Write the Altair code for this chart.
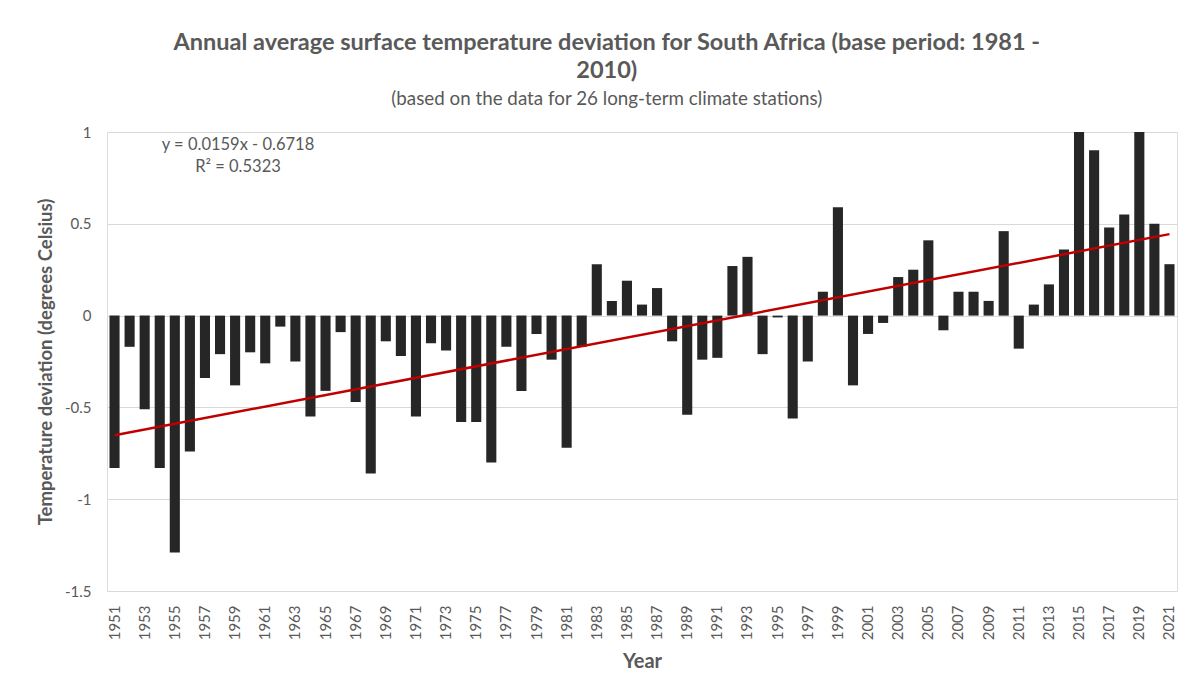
import altair as alt
import pandas as pd

years = list(range(1951, 2022))
deviation = [
    -0.83, -0.17, -0.51, -0.83, -1.29, -0.74, -0.34, -0.21, -0.38, -0.20,
    -0.26, -0.06, -0.25, -0.55, -0.41, -0.09, -0.47, -0.86, -0.14, -0.22,
    -0.55, -0.15, -0.19, -0.58, -0.58, -0.80, -0.17, -0.41, -0.10, -0.24,
    -0.72, -0.17, 0.28, 0.08, 0.19, 0.06, 0.15, -0.14, -0.54, -0.24,
    -0.23, 0.27, 0.32, -0.21, -0.01, -0.56, -0.25, 0.13, 0.59, -0.38,
    -0.10, -0.04, 0.21, 0.25, 0.41, -0.08, 0.13, 0.13, 0.08, 0.46,
    -0.18, 0.06, 0.17, 0.36, 1.00, 0.90, 0.48, 0.55, 1.00, 0.50,
    0.28,
]
x_tick_years = years[::2]
y_ticks = [1, 0.5, 0, -0.5, -1, -1.5]
title_lines = [
    "Annual average surface temperature deviation for South Africa (base period: 1981 -",
    "2010)",
]
subtitle = "(based on the data for 26 long-term climate stations)"
trend_text = ["y = 0.0159x - 0.6718", "R\u00b2 = 0.5323"]

df = pd.DataFrame({"year": years, "value": deviation})

FONT = "Lato"
GREY = "#595959"

x_enc = alt.X(
    "year:O",
    title="Year",
    scale=alt.Scale(paddingInner=0.33, paddingOuter=0.165),
    axis=alt.Axis(
        values=x_tick_years,
        labelAngle=-90,
        labelFontSize=15,
        labelColor=GREY,
        labelFont=FONT,
        labelPadding=14,
        domain=False,
        ticks=False,
        titleFont=FONT,
        titleFontSize=20,
        titleFontWeight="bold",
        titleColor=GREY,
        titlePadding=12,
    ),
)
y_enc = alt.Y(
    "value:Q",
    title="Temperature deviation (degrees Celsius)",
    scale=alt.Scale(domain=[-1.5, 1], nice=False),
    axis=alt.Axis(
        values=y_ticks,
        labelExpr="datum.value + ''",
        labelFontSize=15,
        labelColor=GREY,
        labelFont=FONT,
        labelPadding=16,
        domain=False,
        ticks=False,
        gridColor="#d9d9d9",
        gridWidth=1.2,
        titleFont=FONT,
        titleFontSize=18.5,
        titleFontWeight="bold",
        titleColor=GREY,
        titlePadding=9,
    ),
)

bars = alt.Chart(df).mark_bar(color="#262626").encode(x=x_enc, y=y_enc)

trend = (
    alt.Chart(df)
    .transform_regression("year", "value", method="linear")
    .mark_line(color="#c00000", strokeWidth=2.5)
    .encode(x=alt.X("year:O"), y=alt.Y("value:Q"))
)

t1 = alt.Chart(pd.DataFrame({"t": [trend_text[0]]})).mark_text(
    font=FONT, fontSize=16.5, color=GREY, align="center", baseline="middle"
).encode(text="t:N", x=alt.value(131), y=alt.value(13))
t2 = alt.Chart(pd.DataFrame({"t": [trend_text[1]]})).mark_text(
    font=FONT, fontSize=16.5, color=GREY, align="center", baseline="middle"
).encode(text="t:N", x=alt.value(131), y=alt.value(35))

chart = (
    alt.layer(bars, trend, t1, t2)
    .properties(
        width=1070,
        height=459,
        padding={"left": 28, "top": 22, "right": 6, "bottom": 5},
        title=alt.TitleParams(
            text=title_lines,
            subtitle=subtitle,
            font=FONT,
            fontSize=23.5,
            fontWeight="bold",
            color=GREY,
            lineHeight=28,
            subtitleFont=FONT,
            subtitleFontSize=18.8,
            subtitleColor=GREY,
            subtitlePadding=8,
            anchor="middle",
            frame="bounds",
            offset=16,
        ),
    )
    .configure_view(stroke=None)
    .configure(background="white")
)

chart.save("out.html", embed_options={"renderer": "svg", "actions": False})
